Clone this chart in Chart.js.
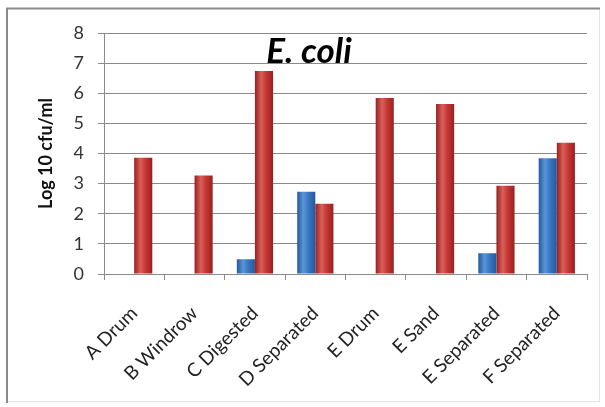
<!DOCTYPE html>
<html>
<head>
<meta charset="utf-8">
<script src="https://cdn.jsdelivr.net/npm/chart.js@4.4.0/dist/chart.umd.min.js"></script>
<style>
html,body{margin:0;padding:0;background:#fff;}
#wrap{position:absolute;left:0;top:0;width:605px;height:407px;}
</style>
</head>
<body>
<div id="wrap"><canvas id="c" width="605" height="407"></canvas></div>
<script>
const categories = ["A Drum","B Windrow","C Digested","D Separated","E Drum","E Sand","E Separated","F Separated"];
const blueValues = [null, null, 0.49, 2.73, null, null, 0.69, 3.84];
const redValues  = [3.86, 3.27, 6.74, 2.33, 5.84, 5.64, 2.93, 4.36];
const yTicks = [0,1,2,3,4,5,6,7,8];
const chartTitle = "E. coli";
const yTitle = "Log 10 cfu/ml";

const FONT = "Lato, 'Open Sans', sans-serif";

const framePlugin = {
  id: 'frame',
  beforeDraw(chart) {
    const ctx = chart.ctx;
    ctx.save();
    ctx.fillStyle = '#fff';
    ctx.fillRect(0,0,chart.width,chart.height);
    ctx.strokeStyle = '#e4e4e4';
    ctx.lineWidth = 1;
    ctx.strokeRect(6.5, 8.5, 593, 393);
    ctx.strokeStyle = '#8a8a8a';
    ctx.lineWidth = 2;
    ctx.beginPath();
    ctx.moveTo(7, 403); ctx.lineTo(7, 8.5); ctx.lineTo(600, 8.5);
    ctx.stroke();
    ctx.restore();
  }
};

function shade(ctx, x0, x1, cEdge, cMid, cLight) {
  const g = ctx.createLinearGradient(x0, 0, x1, 0);
  g.addColorStop(0, cEdge);
  g.addColorStop(0.35, cLight);
  g.addColorStop(0.6, cMid);
  g.addColorStop(1, cEdge);
  return g;
}

const barShadePlugin = {
  id: 'barShade',
  beforeDatasetsDraw(chart) {
    const ctx = chart.ctx;
    chart.data.datasets.forEach((ds, di) => {
      const meta = chart.getDatasetMeta(di);
      meta.data.forEach(el => {
        if (!el || el.skip) return;
        const x0 = el.x - el.width/2, x1 = el.x + el.width/2;
        el.options.backgroundColor = di === 0
          ? shade(ctx, x0, x1, '#245a9c', '#3a78c4', '#5b95d8')
          : shade(ctx, x0, x1, '#9a1f1f', '#c83a36', '#d9605a');
      });
    });
  }
};

const titlePlugin = {
  id: 'innerTitle',
  afterDraw(chart) {
    const ctx = chart.ctx, a = chart.chartArea;
    ctx.save();
    ctx.font = "italic bold 35px " + FONT;
    ctx.fillStyle = '#000';
    ctx.textAlign = 'center';
    ctx.textBaseline = 'alphabetic';
    ctx.fillText(chartTitle, a.left + 205, a.top + 30);
    ctx.restore();
  }
};

new Chart(document.getElementById('c'), {
  type: 'bar',
  data: {
    labels: categories,
    datasets: [
      { label: 'Blue', data: blueValues, backgroundColor: () => '#3a78c4', borderWidth: 0 },
      { label: 'Red', data: redValues, backgroundColor: () => '#c83a36', borderWidth: 0 }
    ]
  },
  options: {
    responsive: false,
    animation: false,
    devicePixelRatio: 1,
    layout: { padding: { left: 31, right: 18, top: 33, bottom: 4 } },
    datasets: { bar: { categoryPercentage: 0.6, barPercentage: 1.0 } },
    plugins: { legend: { display: false }, tooltip: { enabled: false }, title: { display: false } },
    scales: {
      x: {
        grid: { drawOnChartArea: false, drawTicks: true, tickLength: 6, color: '#8a8a8a', offset: true },
        border: { color: '#8a8a8a' },
        ticks: { minRotation: 45, maxRotation: 45, autoSkip: false, padding: 22, color: '#222',
                 font: { family: FONT, size: 19 } },
        afterFit(s) { s.height = 407 - 4 - 274; }
      },
      y: {
        min: 0, max: 8,
        afterBuildTicks(s) { s.ticks = yTicks.map(v => ({ value: v })); },
        grid: { color: '#8a8a8a', tickLength: 6 },
        border: { color: '#8a8a8a' },
        ticks: { padding: 14, color: '#333', font: { family: FONT, size: 18 } },
        title: { display: true, text: yTitle, color: '#111', padding: { top: 4, bottom: 0 },
                 font: { family: FONT, size: 18, weight: 'bold' } },
        afterFit(s) { s.width = 104 - 31; }
      }
    }
  },
  plugins: [framePlugin, barShadePlugin, titlePlugin]
});
</script>
</body>
</html>
